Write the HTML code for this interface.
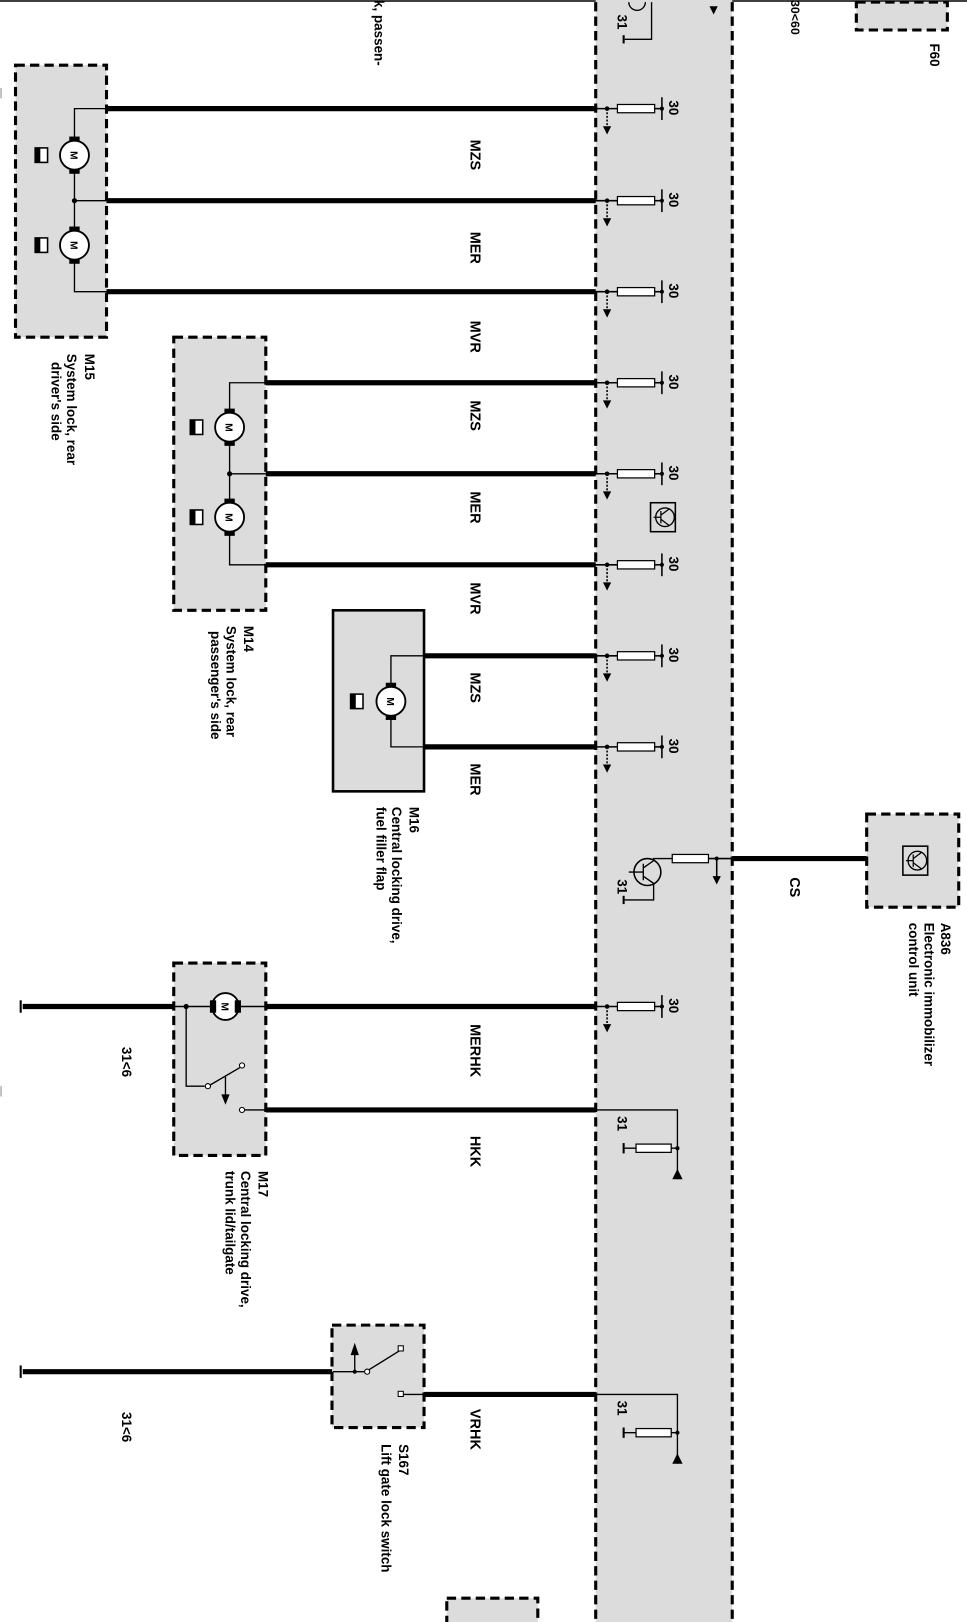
<!DOCTYPE html>
<html><head><meta charset="utf-8"><style>html,body{margin:0;padding:0;background:#fff}svg{display:block}text{font-family:"Liberation Sans",sans-serif;font-weight:bold;fill:#000}</style></head>
<body>
<svg width="967" height="1622" viewBox="0 0 935 1568" preserveAspectRatio="none" xmlns="http://www.w3.org/2000/svg">
<defs>
<g id="conn">
<line x1="575" y1="0" x2="597" y2="0" stroke="#000" stroke-width="1.5"/>
<circle cx="587" cy="0" r="2.2"/>
<rect x="597" y="-4" width="36" height="8" fill="#fff" stroke="#000" stroke-width="1.2"/>
<line x1="633" y1="0" x2="640" y2="0" stroke="#000" stroke-width="1.5"/>
<line x1="640" y1="-11" x2="640" y2="11" stroke="#000" stroke-width="1.5"/>
<circle cx="640" cy="0" r="2"/>
<line x1="587" y1="0" x2="587" y2="18" stroke="#000" stroke-width="1.5" stroke-dasharray="2,1.5"/>
<polygon points="583,17 591,17 587,25"/>
<text font-size="13" transform="translate(647,-8) rotate(90)">30</text>
</g>
<g id="motor">
<rect x="-5" y="-18" width="10" height="6"/>
<rect x="-5" y="12" width="10" height="6"/>
<circle r="14" fill="#fff" stroke="#000" stroke-width="1.8"/>
<text font-size="10" transform="translate(-4,-4) rotate(90)">M</text>
</g>
<g id="lockic">
<rect x="-6" y="-7" width="12" height="14" fill="#fff" stroke="#000" stroke-width="1.5"/>
<rect x="-6" y="-7" width="5" height="14"/>
</g>
<g id="immo">
<rect x="-12" y="-14" width="24" height="28" fill="none" stroke="#000" stroke-width="1.5"/>
<circle cx="2" cy="0" r="9" fill="none" stroke="#000" stroke-width="1.3"/>
<path d="M-9,0 H-2 M-2,-6 V6 M-2,-2 L6,-8 M-2,2 L6,8" stroke="#000" stroke-width="1.2" fill="none"/>
</g>
<g id="gnd">
<path d="M0,0 H80 V67 M28,37 H80" fill="none" stroke="#000" stroke-width="1.3"/>
<rect x="40" y="33" width="34" height="8" fill="#fff" stroke="#000" stroke-width="1.2"/>
<circle cx="80" cy="37" r="2"/>
<polygon points="75,67 85,67 80,57"/>
<line x1="28" y1="32" x2="28" y2="42" stroke="#000" stroke-width="2"/>
<text font-size="13" transform="translate(22,6) rotate(90)">31</text>
</g>
</defs>
<line x1="0" y1="1" x2="935" y2="1" stroke="#000" stroke-width="1.5"/>
<line x1="1" y1="85" x2="1" y2="95" stroke="#888"/>
<line x1="1" y1="1050" x2="1" y2="1060" stroke="#888"/>
<rect x="576" y="0" width="132" height="1568" fill="#dcdcdc"/>
<line x1="576" y1="2" x2="576" y2="1568" stroke="#000" stroke-width="3" stroke-dasharray="9,5"/>
<line x1="708" y1="2" x2="708" y2="1568" stroke="#000" stroke-width="3" stroke-dasharray="9,5"/>
<path d="M608,2 A8,8 0 0 0 624,2" fill="none" stroke="#000" stroke-width="1.3"/>
<path d="M630,2 V38 H604" fill="none" stroke="#000" stroke-width="1.3"/>
<line x1="603" y1="34" x2="603" y2="42" stroke="#000" stroke-width="2"/>
<text font-size="13" transform="translate(597,14) rotate(90)">31</text>
<polygon points="686,6 694,6 690,14"/>
<text font-size="12" font-weight="normal" transform="translate(765,0) rotate(90)">30&lt;60</text>
<rect x="828" y="2" width="88" height="27" fill="#dcdcdc" stroke="#000" stroke-width="3" stroke-dasharray="9,5"/>
<text font-size="13" font-weight="normal" transform="translate(899,42) rotate(90)">F60</text>
<text font-size="13" transform="translate(362,0) rotate(90)">k, passen-</text>
<!-- M15 -->
<rect x="15" y="63" width="88" height="263" fill="#dcdcdc" stroke="#000" stroke-width="3" stroke-dasharray="9,5"/>
<path d="M103,105 H72 V282 H103 M72,194 H103" fill="none" stroke="#000" stroke-width="1.3"/>
<circle cx="72" cy="194" r="2.5"/>
<use href="#motor" x="72" y="150"/><use href="#motor" x="72" y="237"/>
<use href="#lockic" x="40" y="150"/><use href="#lockic" x="40" y="237"/>
<text font-size="13" transform="translate(82,342) rotate(90)"><tspan x="0">M15</tspan><tspan x="0" dy="17">System  lock, rear</tspan><tspan x="8" dy="15">driver's side</tspan></text>
<!-- M14 -->
<rect x="168" y="326" width="89" height="264" fill="#dcdcdc" stroke="#000" stroke-width="3" stroke-dasharray="9,5"/>
<path d="M257,370 H222 V546 H257 M222,458 H257" fill="none" stroke="#000" stroke-width="1.3"/>
<circle cx="222" cy="458" r="2.5"/>
<use href="#motor" x="222" y="413"/><use href="#motor" x="222" y="500"/>
<use href="#lockic" x="190" y="413"/><use href="#lockic" x="190" y="500"/>
<text font-size="13" transform="translate(236,590) rotate(90)"><tspan x="15">M14</tspan><tspan x="15" dy="17">System  lock, rear</tspan><tspan x="20" dy="15">passenger's side</tspan></text>
<!-- M16 -->
<rect x="322" y="590" width="88" height="175" fill="#dcdcdc" stroke="#000" stroke-width="2.5"/>
<path d="M410,634 H378 V722 H410" fill="none" stroke="#000" stroke-width="1.3"/>
<use href="#motor" x="378" y="678"/>
<use href="#lockic" x="345" y="678"/>
<text font-size="13" transform="translate(396,780) rotate(90)"><tspan x="0">M16</tspan><tspan x="0" dy="17">Central locking drive,</tspan><tspan x="0" dy="15">fuel filler flap</tspan></text>
<!-- wires -->
<g stroke="#000" stroke-width="5">
<line x1="103" y1="105" x2="576" y2="105"/><line x1="103" y1="194" x2="576" y2="194"/><line x1="103" y1="282" x2="576" y2="282"/>
<line x1="257" y1="370" x2="576" y2="370"/><line x1="257" y1="458" x2="576" y2="458"/><line x1="257" y1="546" x2="576" y2="546"/>
<line x1="410" y1="634" x2="576" y2="634"/><line x1="410" y1="722" x2="576" y2="722"/>
<line x1="708" y1="830" x2="838" y2="830"/>
<line x1="22" y1="973" x2="576" y2="973"/>
<line x1="257" y1="1073" x2="576" y2="1073"/>
<line x1="22" y1="1326" x2="322" y2="1326"/>
<line x1="410" y1="1348" x2="576" y2="1348"/>
</g>
<line x1="20" y1="967" x2="20" y2="979" stroke="#000" stroke-width="2"/>
<line x1="20" y1="1320" x2="20" y2="1332" stroke="#000" stroke-width="2"/>
<use href="#conn" y="105"/><use href="#conn" y="194"/><use href="#conn" y="282"/>
<use href="#conn" y="370"/><use href="#conn" y="458"/><use href="#conn" y="546"/>
<use href="#conn" y="634"/><use href="#conn" y="722"/><use href="#conn" y="973"/>
<use href="#immo" x="641" y="500"/>
<g font-size="14">
<text transform="translate(455,135) rotate(90)">MZS</text>
<text transform="translate(455,224) rotate(90)">MER</text>
<text transform="translate(455,310) rotate(90)">MVR</text>
<text transform="translate(455,387) rotate(90)">MZS</text>
<text transform="translate(455,475) rotate(90)">MER</text>
<text transform="translate(455,563) rotate(90)">MVR</text>
<text transform="translate(455,650) rotate(90)">MZS</text>
<text transform="translate(455,738) rotate(90)">MER</text>
<text font-weight="normal" transform="translate(764,848) rotate(90)">CS</text>
<text transform="translate(455,990) rotate(90)">MERHK</text>
<text transform="translate(455,1098) rotate(90)">HKK</text>
<text transform="translate(455,1362) rotate(90)">VRHK</text>
</g>
<!-- CS transistor -->
<circle cx="626" cy="843" r="13" fill="none" stroke="#000" stroke-width="1.5"/>
<path d="M608,843 H622 M622,835 V851 M622,839 L632,832 V830 H650 M622,847 L632,854 V870 H604" fill="none" stroke="#000" stroke-width="1.3"/>
<rect x="650" y="826" width="35" height="8" fill="#fff" stroke="#000" stroke-width="1.2"/>
<line x1="685" y1="830" x2="708" y2="830" stroke="#000" stroke-width="1.5"/>
<circle cx="693" cy="830" r="2"/>
<line x1="693" y1="830" x2="693" y2="848" stroke="#000" stroke-width="1.5"/>
<polygon points="689,847 697,847 693,855"/>
<line x1="603" y1="866" x2="603" y2="874" stroke="#000" stroke-width="2"/>
<text font-size="13" transform="translate(597,850) rotate(90)">31</text>
<!-- A836 -->
<rect x="838" y="787" width="89" height="90" fill="#dcdcdc" stroke="#000" stroke-width="3" stroke-dasharray="9,5"/>
<use href="#immo" x="885" y="832"/>
<text font-size="13" transform="translate(910,892) rotate(90)"><tspan x="0">A836</tspan><tspan x="0" dy="16">Electronic immobilizer</tspan><tspan x="0" dy="15">control unit</tspan></text>
<!-- M17 -->
<rect x="168" y="931" width="89" height="186" fill="#dcdcdc" stroke="#000" stroke-width="3" stroke-dasharray="9,5"/>
<line x1="170" y1="973" x2="255" y2="973" stroke="#dcdcdc" stroke-width="5"/>
<line x1="168" y1="973" x2="257" y2="973" stroke="#000" stroke-width="1.5"/>
<circle cx="218" cy="973" r="13" fill="#fff" stroke="#000" stroke-width="1.8"/>
<rect x="203" y="967" width="6" height="12"/><rect x="227" y="967" width="6" height="12"/>
<text font-size="10" transform="translate(214,969) rotate(90)">M</text>
<circle cx="180" cy="973" r="2.5"/>
<path d="M180,973 V1050 H198" fill="none" stroke="#000" stroke-width="1.3"/>
<circle cx="201" cy="1050" r="2.5" fill="#fff" stroke="#000"/>
<line x1="203" y1="1049" x2="232" y2="1032" stroke="#000" stroke-width="1.3"/>
<circle cx="234" cy="1030" r="2.5" fill="#fff" stroke="#000"/>
<line x1="218" y1="1041" x2="218" y2="1060" stroke="#000" stroke-width="1.3"/>
<polygon points="214,1058 222,1058 218,1068"/>
<circle cx="234" cy="1073" r="2.5" fill="#fff" stroke="#000"/>
<line x1="237" y1="1073" x2="257" y2="1073" stroke="#000" stroke-width="1.3"/>
<text font-size="13" transform="translate(250,1132) rotate(90)"><tspan x="0">M17</tspan><tspan x="0" dy="17">Central locking drive,</tspan><tspan x="0" dy="15">trunk lid/tailgate</tspan></text>
<text font-size="13" transform="translate(118,1012) rotate(90)">31&lt;6</text>
<use href="#gnd" x="575" y="1073"/>
<!-- S167 -->
<rect x="321" y="1281" width="89" height="99" fill="#dcdcdc" stroke="#000" stroke-width="3" stroke-dasharray="9,5"/>
<line x1="322" y1="1326" x2="352" y2="1326" stroke="#000" stroke-width="1.3"/>
<circle cx="355" cy="1326" r="2.5" fill="#fff" stroke="#000"/>
<line x1="357" y1="1324" x2="386" y2="1306" stroke="#000" stroke-width="1.3"/>
<rect x="385" y="1301" width="5" height="5" fill="#fff" stroke="#000"/>
<line x1="343" y1="1326" x2="343" y2="1308" stroke="#000" stroke-width="1.3"/>
<polygon points="339,1310 347,1310 343,1298"/>
<circle cx="343" cy="1326" r="2"/>
<rect x="385" y="1345" width="5" height="5" fill="#fff" stroke="#000"/>
<line x1="390" y1="1348" x2="410" y2="1348" stroke="#000" stroke-width="1.3"/>
<text font-size="13" transform="translate(118,1365) rotate(90)">31&lt;6</text>
<text font-size="13" transform="translate(386,1396) rotate(90)"><tspan x="0">S167</tspan><tspan x="0" dy="17">Lift gate lock switch</tspan></text>
<use href="#gnd" x="575" y="1348"/>
<rect x="432" y="1545" width="88" height="30" fill="#dcdcdc" stroke="#000" stroke-width="3" stroke-dasharray="9,5"/>
</svg>
</body></html>
